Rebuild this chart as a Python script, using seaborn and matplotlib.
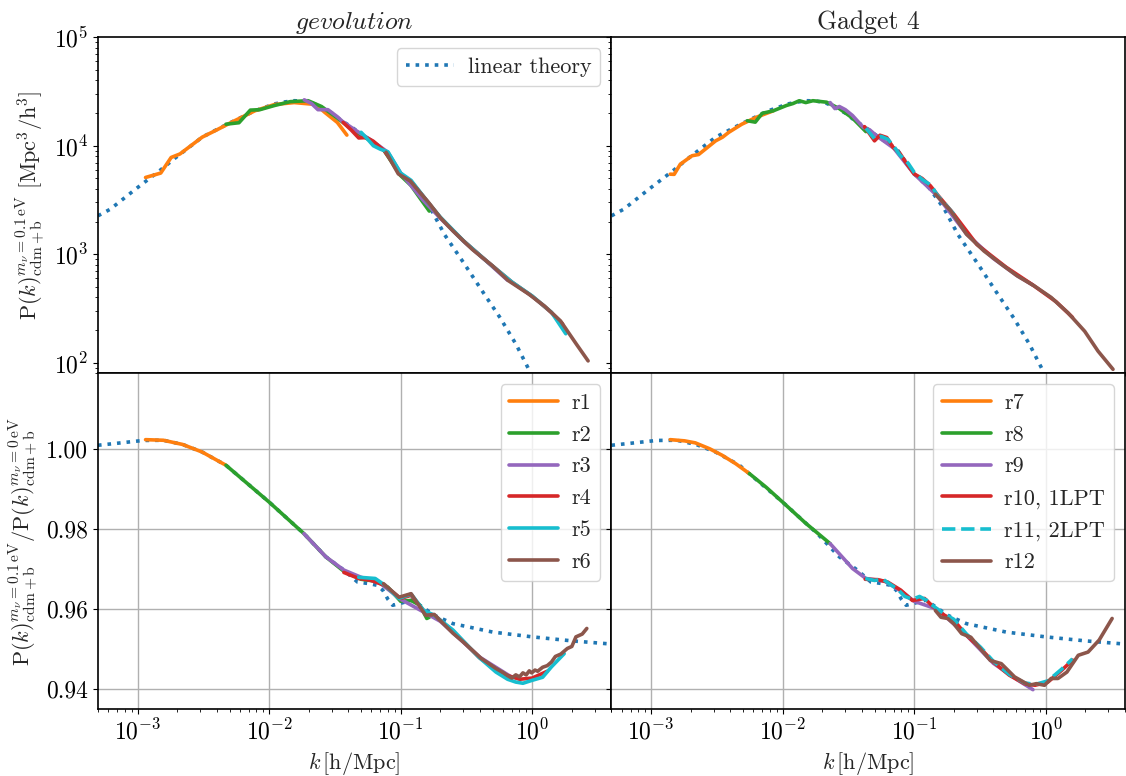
import numpy as np
import pandas as pd
import seaborn as sns
import matplotlib
matplotlib.use("Agg")
import matplotlib.pyplot as plt

# ---- linear theory ----
k_lin = [5e-4, 6.2e-4, 9.7e-4, 1.5e-3, 1.93e-3, 3.1e-3, 4.8e-3, 7.8e-3, 0.011, 0.013, 0.0155, 0.018,
         0.021, 0.025, 0.03, 0.0355, 0.042, 0.05, 0.06, 0.074, 0.1, 0.13, 0.17, 0.216, 0.306,
         0.433, 0.57, 0.753, 0.96, 1.2]
P_lin = [2260, 2600, 4000, 6000, 7700, 12000, 15800, 21000, 24300, 25300, 26000, 25800,
         25000, 22600, 20000, 17000, 15000, 12800, 11000, 9300, 5500, 4100, 2600, 1510, 810,
         427, 260, 148, 83, 45]
k_lin_r = [5e-4, 7e-4, 1.1e-3, 1.57e-3, 2.2e-3, 3.1e-3, 4.7e-3, 0.01, 0.0184, 0.027, 0.037, 0.047,
           0.058, 0.066, 0.073, 0.08, 0.087, 0.1, 0.123, 0.14, 0.18, 0.25, 0.5, 1.0, 2.0, 4.0]
r_lin = [1.001, 1.0015, 1.0022, 1.00225, 1.0012, 0.9993, 0.996, 0.9868, 0.9789, 0.9731, 0.9698, 0.9668,
         0.9664, 0.966, 0.9648, 0.9625, 0.961, 0.9615, 0.9623, 0.961, 0.9585, 0.9564, 0.9543, 0.9531,
         0.9521, 0.9513]

# ---- gevolution: P(k) ----
k_r1 = [1.15e-3, 1.5e-3, 1.8e-3, 2.1e-3, 3.1e-3, 4.0e-3, 5.2e-3, 7.8e-3, 0.011, 0.0155, 0.0227, 0.0265, 0.033, 0.039]
P_r1 = [5100, 5600, 7800, 8400, 12000, 14000, 16500, 21000, 24000, 25000, 24000, 20300, 16400, 12540]
k_r2 = [4.7e-3, 5.9e-3, 7.2e-3, 8.5e-3, 0.011, 0.0145, 0.0198, 0.025, 0.033, 0.045, 0.06, 0.075, 0.1, 0.12, 0.14, 0.165]
P_r2 = [15800, 16300, 21300, 21500, 23500, 25500, 26000, 23000, 18000, 13500, 11000, 9000, 5300, 4300, 3300, 2500]
k_r3 = [0.0185, 0.021, 0.0235, 0.028, 0.033, 0.036, 0.045, 0.06, 0.08, 0.1, 0.15, 0.2, 0.3, 0.45, 0.65]
P_r3 = [26500, 24500, 21500, 21500, 18500, 16800, 14000, 11200, 8700, 5600, 3100, 2150, 1320, 860, 575]
k_r4 = [0.0365, 0.042, 0.048, 0.055, 0.062, 0.075, 0.1, 0.12, 0.16, 0.2, 0.3, 0.45, 0.7, 1.0, 1.4, 1.7]
P_r4 = [16400, 14000, 11800, 11900, 11000, 9000, 5500, 4700, 3050, 2180, 1330, 865, 555, 410, 290, 228]
k_r5 = [0.05, 0.055, 0.062, 0.07, 0.08, 0.1, 0.12, 0.16, 0.2, 0.3, 0.45, 0.7, 1.0, 1.4, 1.8]
P_r5 = [13300, 11800, 10000, 9300, 8800, 5600, 4800, 3050, 2200, 1330, 865, 555, 412, 292, 185]
k_r6 = [0.0775, 0.096, 0.118, 0.163, 0.2, 0.25, 0.35, 0.5, 0.66, 0.94, 1.24, 1.64, 2.17, 2.66]
P_r6 = [8700, 5500, 4750, 3000, 2180, 1640, 1110, 780, 570, 430, 333, 243, 148, 104]

# ---- gevolution: ratio ----
kr_r1 = [1.15e-3, 1.57e-3, 2.2e-3, 3.1e-3, 4.7e-3]
rr_r1 = [1.0024, 1.00225, 1.0012, 0.9993, 0.996]
kr_r2 = [4.7e-3, 0.01, 0.0184, 0.027, 0.037, 0.05, 0.065, 0.08, 0.1, 0.12, 0.14, 0.158, 0.165]
rr_r2 = [0.996, 0.9868, 0.9789, 0.9731, 0.9695, 0.9675, 0.967, 0.9655, 0.962, 0.9622, 0.961, 0.9577, 0.958]
kr_r3 = [0.0184, 0.027, 0.037, 0.05, 0.07, 0.1, 0.2, 0.4, 0.7]
rr_r3 = [0.9789, 0.9731, 0.9698, 0.968, 0.9665, 0.9625, 0.957, 0.948, 0.943]
kr_r4 = [0.037, 0.048, 0.06, 0.075, 0.1, 0.12, 0.155, 0.18, 0.25, 0.4, 0.6, 0.8, 1.0, 1.3]
rr_r4 = [0.9692, 0.9677, 0.9672, 0.966, 0.9627, 0.9635, 0.959, 0.9585, 0.9545, 0.9478, 0.9438, 0.9425, 0.9428, 0.9445]
kr_r5 = [0.048, 0.064, 0.076, 0.097, 0.12, 0.15, 0.18, 0.25, 0.39, 0.53, 0.65, 0.75, 0.85, 0.99, 1.2, 1.4, 1.75]
rr_r5 = [0.968, 0.9677, 0.966, 0.9627, 0.9638, 0.9597, 0.9585, 0.9548, 0.9481, 0.9443, 0.9425, 0.9418,
         0.9415, 0.9422, 0.943, 0.9456, 0.9489]
kr_r6 = [0.074, 0.097, 0.12, 0.155, 0.18, 0.25, 0.3, 0.41, 0.53, 0.6, 0.65, 0.7, 0.75, 0.8, 0.85, 0.9,
         0.95, 0.99, 1.05, 1.1, 1.2, 1.3, 1.4, 1.5, 1.65, 1.85, 2.0, 2.15, 2.4, 2.6]
rr_r6 = [0.9664, 0.963, 0.9639, 0.9585, 0.9587, 0.954, 0.9518, 0.9477, 0.9452, 0.9442, 0.9434, 0.9428,
         0.9436, 0.9431, 0.9441, 0.9436, 0.9446, 0.9441, 0.9448, 0.9445, 0.9455, 0.9459, 0.9468, 0.9482,
         0.9488, 0.9502, 0.9507, 0.9531, 0.9538, 0.9552]

# ---- Gadget 4: P(k) ----
k_r7 = [1.4e-3, 1.5e-3, 1.67e-3, 2.05e-3, 2.3e-3, 2.5e-3, 3.1e-3, 3.5e-3, 3.9e-3, 4.9e-3, 6.25e-3, 8.5e-3]
P_r7 = [5470, 5450, 6760, 8090, 8300, 9000, 11100, 12000, 13300, 15800, 18200, 21000]
k_r8 = [5.4e-3, 6.2e-3, 7e-3, 8.5e-3, 0.0107, 0.012, 0.0134, 0.015, 0.017, 0.0216, 0.027, 0.034, 0.043]
P_r8 = [17000, 16500, 19900, 21000, 23500, 24500, 26000, 25000, 26000, 25200, 22000, 18000, 13500]
k_r9 = [0.023, 0.025, 0.027, 0.03, 0.034, 0.041, 0.046, 0.052, 0.07, 0.1, 0.15, 0.25, 0.4, 0.6, 0.8]
P_r9 = [25000, 22000, 23000, 21500, 19000, 14800, 14000, 12300, 9500, 5500, 3450, 1540, 915, 640, 520]
k_r10 = [0.042, 0.05, 0.055, 0.062, 0.069, 0.078, 0.088, 0.1, 0.115, 0.133, 0.15, 0.2, 0.3, 0.5, 0.8, 1.2, 1.6]
P_r10 = [15000, 11100, 12500, 11900, 9700, 8500, 6800, 5500, 5000, 4270, 3550, 2350, 1230, 760, 520, 365, 262]
k_r11 = [0.043, 0.05, 0.056, 0.063, 0.07, 0.078, 0.09, 0.1, 0.115, 0.135, 0.15, 0.2]
P_r11 = [14500, 11600, 12200, 11500, 9900, 8200, 6900, 5700, 4900, 4300, 3500, 2350]
k_r12 = [0.145, 0.19, 0.25, 0.34, 0.46, 0.61, 0.82, 1.1, 1.48, 1.98, 2.5, 3.25]
P_r12 = [3580, 2510, 1530, 1070, 810, 630, 510, 400, 288, 195, 128, 87]

# ---- Gadget 4: ratio ----
kr_r7 = [1.4e-3, 1.8e-3, 2.17e-3, 2.8e-3, 3.47e-3, 4.4e-3, 5.6e-3]
rr_r7 = [1.0024, 1.0021, 1.0016, 1.0001, 0.9985, 0.9964, 0.9939]
kr_r8 = [5.6e-3, 7.5e-3, 0.01, 0.015, 0.023]
rr_r8 = [0.9939, 0.9905, 0.9868, 0.9815, 0.9764]
kr_r9 = [0.023, 0.03, 0.034, 0.043, 0.06, 0.08, 0.1, 0.15, 0.25, 0.4, 0.6, 0.8]
rr_r9 = [0.9764, 0.9722, 0.9702, 0.9677, 0.967, 0.9645, 0.962, 0.96, 0.9535, 0.9465, 0.9425, 0.9399]
kr_r10 = [0.0425, 0.053, 0.063, 0.079, 0.097, 0.12, 0.14, 0.17, 0.2, 0.25, 0.32, 0.4, 0.53, 0.69, 0.83,
          1.04, 1.32, 1.6]
rr_r10 = [0.9675, 0.9674, 0.9668, 0.9648, 0.9622, 0.9627, 0.9606, 0.9585, 0.9573, 0.9535, 0.9502, 0.9468,
          0.9435, 0.9414, 0.941, 0.9418, 0.9447, 0.9473]
kr_r11 = [0.0425, 0.05, 0.058, 0.066, 0.075, 0.085, 0.097, 0.11, 0.125, 0.14, 0.17, 0.2, 0.25, 0.32, 0.4,
          0.53, 0.69, 0.83, 1.04, 1.32, 1.6]
rr_r11 = [0.9677, 0.9672, 0.9675, 0.9662, 0.965, 0.9632, 0.9625, 0.9632, 0.9622, 0.9608, 0.9588, 0.9575,
          0.9538, 0.9505, 0.947, 0.9437, 0.9416, 0.9412, 0.9421, 0.945, 0.9476]
kr_r12 = [0.145, 0.16, 0.18, 0.2, 0.23, 0.27, 0.31, 0.38, 0.46, 0.58, 0.75, 0.85, 0.98, 1.1, 1.24, 1.45,
          1.77, 2.1, 2.55, 3.2]
rr_r12 = [0.9597, 0.958, 0.9577, 0.9564, 0.9539, 0.953, 0.9506, 0.9472, 0.9464, 0.9431, 0.941, 0.9414,
          0.941, 0.9427, 0.9427, 0.9443, 0.9485, 0.9493, 0.9523, 0.9577]

run_colors = ["#ff7f0e", "#2ca02c", "#9467bd", "#d62728", "#17becf", "#8c564b"]
lin_color = "#1f77b4"

gev_P = [(k_r1, P_r1), (k_r2, P_r2), (k_r3, P_r3), (k_r4, P_r4), (k_r5, P_r5), (k_r6, P_r6)]
gev_R = [(kr_r1, rr_r1), (kr_r2, rr_r2), (kr_r3, rr_r3), (kr_r4, rr_r4), (kr_r5, rr_r5), (kr_r6, rr_r6)]
gad_P = [(k_r7, P_r7), (k_r8, P_r8), (k_r9, P_r9), (k_r10, P_r10), (k_r11, P_r11), (k_r12, P_r12)]
gad_R = [(kr_r7, rr_r7), (kr_r8, rr_r8), (kr_r9, rr_r9), (kr_r10, rr_r10), (kr_r11, rr_r11), (kr_r12, rr_r12)]
gev_labels = ["r1", "r2", "r3", "r4", "r5", "r6"]
gad_labels = ["r7", "r8", "r9", "r10, 1LPT", "r11, 2LPT", "r12"]
gad_styles = ["-", "-", "-", "-", "--", "-"]

sns.set_style("ticks")
plt.rcParams["font.family"] = ["cmr10", "DejaVu Serif"]
plt.rcParams["mathtext.fontset"] = "cm"
plt.rcParams["axes.formatter.use_mathtext"] = True
plt.rcParams["axes.unicode_minus"] = False
plt.rcParams["axes.edgecolor"] = "black"
plt.rcParams["axes.linewidth"] = 1.2
plt.rcParams["xtick.color"] = "black"
plt.rcParams["ytick.color"] = "black"
plt.rcParams["xtick.labelsize"] = 17
plt.rcParams["ytick.labelsize"] = 17
plt.rcParams["font.size"] = 16

fig, axes = plt.subplots(2, 2, figsize=(11.26, 7.76), dpi=100, sharex=True, sharey="row")
fig.subplots_adjust(left=0.087, right=0.999, top=0.952, bottom=0.086, hspace=0, wspace=0)

lw = 2.6
leg_kw = dict(fontsize=16, handlelength=2.2, handletextpad=0.6, framealpha=0.8)
for col, (Pset, Rset, labels, styles) in enumerate([
        (gev_P, gev_R, gev_labels, ["-"] * 6),
        (gad_P, gad_R, gad_labels, gad_styles)]):
    axt, axb = axes[0, col], axes[1, col]
    for ax in (axt, axb):
        ax.set_xscale("log")
    axt.set_yscale("log")

    sns.lineplot(x=k_lin, y=P_lin, ax=axt, color=lin_color, lw=lw, linestyle=":",
                 sort=False, estimator=None, label="linear theory" if col == 0 else None, legend=False)
    sns.lineplot(x=k_lin_r, y=r_lin, ax=axb, color=lin_color, lw=lw, linestyle=":",
                 sort=False, estimator=None, legend=False)
    handles = []
    for i in range(6):
        sns.lineplot(x=Pset[i][0], y=Pset[i][1], ax=axt, color=run_colors[i], lw=lw,
                     linestyle=styles[i], sort=False, estimator=None, legend=False)
        sns.lineplot(x=Rset[i][0], y=Rset[i][1], ax=axb, color=run_colors[i], lw=lw,
                     linestyle=styles[i], sort=False, estimator=None, legend=False)
        handles.append(axb.lines[-1])
    axb.legend(handles, labels, loc="upper right", labelspacing=0.55, **leg_kw)
    axb.grid(True, which="major", color="#b0b0b0", lw=1)
    axb.set_xlabel(r"$k\,[\mathrm{h/Mpc}]$", fontsize=16)

axes[0, 0].legend(loc="upper right", **leg_kw)
axes[0, 0].set_title(r"$\mathit{gevolution}$", fontsize=18.5, pad=6)
axes[0, 1].set_title("Gadget 4", fontsize=18.5, pad=6)

axes[0, 0].set_xlim(5e-4, 4.0)
axes[0, 0].set_ylim(80, 1e5)
axes[1, 0].set_ylim(0.935, 1.019)
axes[1, 0].set_yticks([0.94, 0.96, 0.98, 1.00])
axes[1, 0].set_yticklabels(["0.94", "0.96", "0.98", "1.00"])

axes[0, 0].set_ylabel(r"$\mathrm{P}(k)^{m_\nu=0.1\,\mathrm{eV}}_{\mathrm{cdm+b}}\ [\mathrm{Mpc}^3/\mathrm{h}^3]$",
                      fontsize=16)
axes[1, 0].set_ylabel(r"$\mathrm{P}(k)^{m_\nu=0.1\,\mathrm{eV}}_{\mathrm{cdm+b}}/"
                      r"\mathrm{P}(k)^{m_\nu=0\,\mathrm{eV}}_{\mathrm{cdm+b}}$", fontsize=16)
for ax in axes[:, 1]:
    ax.set_ylabel("")
for ax in axes[0, :]:
    ax.set_xlabel("")

fig.savefig("out.png", dpi=100)
